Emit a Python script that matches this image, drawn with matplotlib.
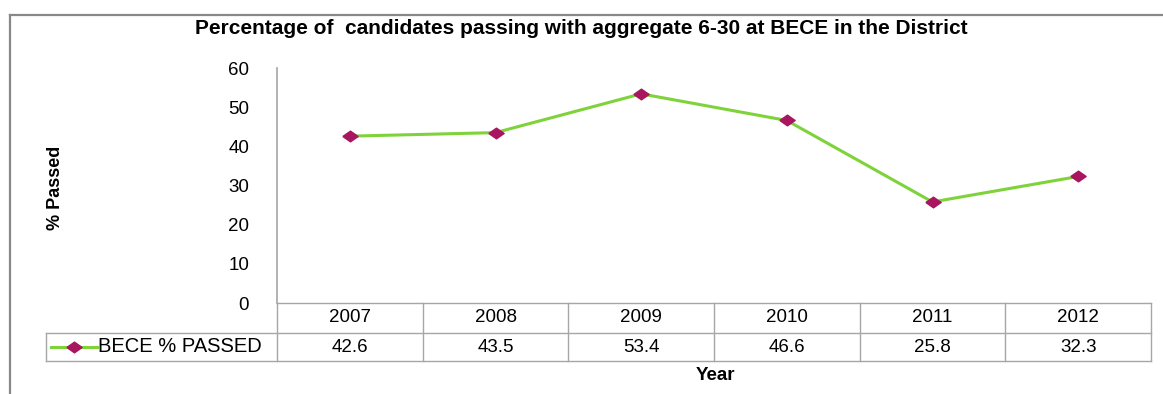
import matplotlib
matplotlib.use("Agg")
import matplotlib.pyplot as plt
from matplotlib.lines import Line2D
import matplotlib.transforms as mtransforms

plt.rcParams['font.family'] = ['Liberation Sans', 'DejaVu Sans']

years = ["2007", "2008", "2009", "2010", "2011", "2012"]
passed = [42.6, 43.5, 53.4, 46.6, 25.8, 32.3]
series_name = "BECE % PASSED"
title = "Percentage of  candidates passing with aggregate 6-30 at BECE in the District"

W, H = 1163, 394
fig = plt.figure(figsize=(W / 100, H / 100), dpi=100)

# pixel helpers (from top-left)
def fx(px):
    return px / W

def fy(py):
    return 1 - py / H

ax_l, ax_r, ax_t, ax_b = 277, 1151, 68, 303
ax = fig.add_axes([fx(ax_l), fy(ax_b), fx(ax_r - ax_l), (ax_b - ax_t) / H])

green = "#7ed23a"
marker_c = "#a8165f"
grid_c = "#a6a6a6"
fs = 13.5

# flattened diamond like the Excel marker
diamond = [(-1, 0), (0, 0.7), (1, 0), (0, -0.7), (-1, 0)]

x = list(range(len(years)))
ax.plot(x, passed, color=green, lw=2.2, marker=diamond, markersize=11,
        markerfacecolor=marker_c, markeredgecolor=marker_c, zorder=3)

ax.set_xlim(-0.5, len(years) - 0.5)
ax.set_ylim(0, 60)
ax.set_yticks(range(0, 61, 10))
ax.tick_params(axis="y", length=0, labelsize=fs, pad=20)
ax.set_xticks([])
for s in ["top", "right", "bottom"]:
    ax.spines[s].set_visible(False)
ax.spines["left"].set_color(grid_c)
ax.spines["left"].set_linewidth(1.2)

# data table below the axis
r1, r2, r3 = 303, 333, 361
leg_l = 46
col_w = (ax_r - ax_l) / len(years)
trans = mtransforms.blended_transform_factory(ax.transData, fig.transFigure)

def hline(y, x0, x1):
    fig.add_artist(Line2D([fx(x0), fx(x1)], [fy(y), fy(y)], color=grid_c, lw=1.0))

def vline(xp, y0, y1):
    fig.add_artist(Line2D([fx(xp), fx(xp)], [fy(y0), fy(y1)], color=grid_c, lw=1.0))

hline(r1, ax_l, ax_r)
hline(r2, leg_l, ax_r)
hline(r3, leg_l, ax_r)
vline(ax_l, r1, r3)
vline(leg_l, r2, r3)
for i in range(len(years)):
    vline(ax_l + col_w * (i + 1), r1, r3)

for i, (yr, v) in enumerate(zip(years, passed)):
    fig.text(i, fy((r1 + r2) / 2), yr, transform=trans, ha="center", va="center", fontsize=fs)
    fig.text(i, fy((r2 + r3) / 2), f"{v}", transform=trans, ha="center", va="center", fontsize=fs)

# legend key in the table
ym = fy((r2 + r3) / 2)
fig.add_artist(Line2D([fx(51), fx(97)], [ym, ym], color=green, lw=2.2))
fig.add_artist(Line2D([fx(74)], [ym], marker=diamond, markersize=11, color=marker_c, lw=0))
fig.text(fx(98), ym, series_name, ha="left", va="center", fontsize=14.5)

fig.text(fx(581), fy(29), title, ha="center", va="center", fontsize=15, fontweight="bold")
fig.text(fx(715), fy(375), "Year", ha="center", va="center", fontsize=13.5, fontweight="bold")
fig.text(fx(55), fy(188), "% Passed", ha="center", va="center", fontsize=13, fontweight="bold",
         rotation=90, family=["Liberation Sans Narrow", "Liberation Sans", "DejaVu Sans"])

# outer chart frame (partially visible)
fig.add_artist(Line2D([fx(10), fx(10)], [fy(15), 0], color="#888888", lw=1.6))
fig.add_artist(Line2D([fx(10), 1], [fy(15), fy(15)], color="#888888", lw=1.6))

fig.savefig("out.png", dpi=100)
